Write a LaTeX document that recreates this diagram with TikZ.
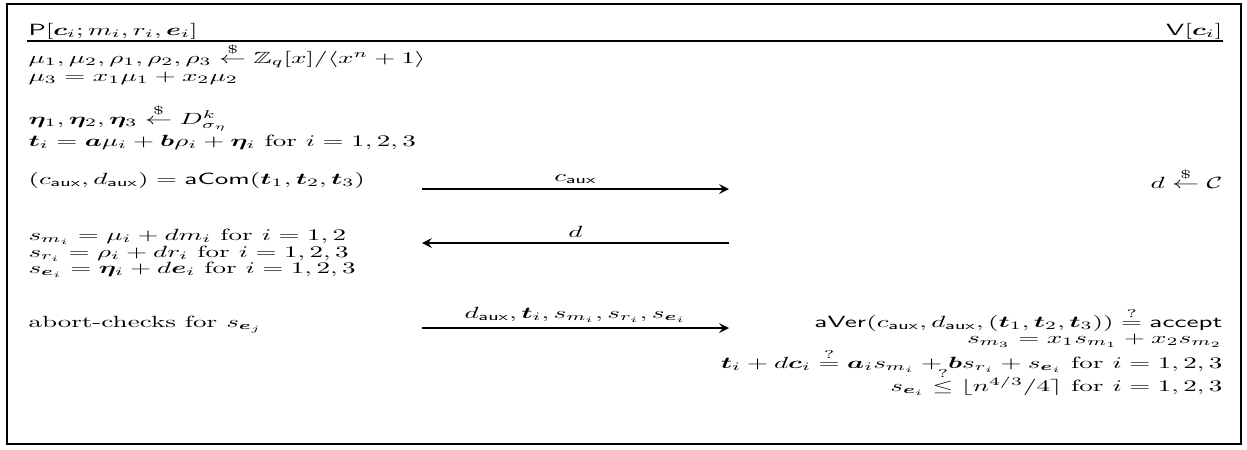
\documentclass[tikz,border=0pt]{standalone}
\usepackage{amsmath,amssymb,bm,graphicx}
\usetikzlibrary{arrows.meta}
% the reference is squeezed in height
\newcommand{\sqz}[1]{\scalebox{1}[0.6]{#1}}

\begin{document}
\begin{tikzpicture}[x=0.37pt,y=-0.37pt,
    lft/.style={anchor=base west,inner sep=0pt},
    rgt/.style={anchor=base east,inner sep=0pt},
    lbl/.style={above,inner sep=1.7pt},
    msg/.style={->,>=stealth,semithick}]
  \useasboundingbox (0,0) rectangle (1247,449);
  \draw[semithick] (7,4) rectangle (1241,444);
  % parties
  \node[lft] (prover) at (28,35) {\sqz{$\mathsf{P}[\bm{c}_i; m_i, r_i, \bm{e}_i]$}};
  \node[rgt] (verifier) at (1223,35) {\sqz{$\mathsf{V}[\bm{c}_i]$}};
  \coordinate (ruleL) at (27,41);
  \coordinate (ruleR) at (1223,41);
  \draw[semithick] (ruleL) -- (ruleR);
  % prover side
  \node[lft] (l1) at (28,63) {\sqz{$\mu_1, \mu_2, \rho_1, \rho_2, \rho_3 \stackrel{\$}{\leftarrow} \mathbb{Z}_q[x]/\langle x^n + 1\rangle$}};
  \node[lft] (l2) at (28,81) {\sqz{$\mu_3 = x_1\mu_1 + x_2\mu_2$}};
  \node[lft] (l3) at (28,124) {\sqz{$\bm{\eta}_1, \bm{\eta}_2, \bm{\eta}_3 \stackrel{\$}{\leftarrow} D^k_{\sigma_\eta}$}};
  \node[lft] (l4) at (28,146) {\sqz{$\bm{t}_i = \bm{a}\mu_i + \bm{b}\rho_i + \bm{\eta}_i$ for $i = 1, 2, 3$}};
  \node[lft] (l5) at (28,184) {\sqz{$(c_{\mathsf{aux}}, d_{\mathsf{aux}}) = \mathsf{aCom}(\bm{t}_1, \bm{t}_2, \bm{t}_3)$}};
  \node[lft] (l6) at (28,240) {\sqz{$s_{m_i} = \mu_i + dm_i$ for $i = 1, 2$}};
  \node[lft] (l7) at (28,257) {\sqz{$s_{r_i} = \rho_i + dr_i$ for $i = 1, 2, 3$}};
  \node[lft] (l8) at (28,273) {\sqz{$s_{\bm{e}_i} = \bm{\eta}_i + d\bm{e}_i$ for $i = 1, 2, 3$}};
  \node[lft] (l9) at (28,327) {\sqz{abort-checks for $s_{\bm{e}_j}$}};
  % verifier side
  \node[rgt] (r1) at (1223,188) {\sqz{$d \stackrel{\$}{\leftarrow} \mathcal{C}$}};
  \node[rgt] (r2) at (1223,327) {\sqz{$\mathsf{aVer}(c_{\mathsf{aux}}, d_{\mathsf{aux}}, (\bm{t}_1, \bm{t}_2, \bm{t}_3)) \stackrel{?}{=} \mathsf{accept}$}};
  \node[rgt] (r3) at (1223,343) {\sqz{$s_{m_3} = x_1 s_{m_1} + x_2 s_{m_2}$}};
  \node[rgt] (r4) at (1223,368) {\sqz{$\bm{t}_i + d\bm{c}_i \stackrel{?}{=} \bm{a}_i s_{m_i} + \bm{b} s_{r_i} + s_{\bm{e}_i}$ for $i = 1, 2, 3$}};
  \node[rgt] (r5) at (1223,391) {\sqz{$s_{\bm{e}_i} \stackrel{?}{\le} \lfloor n^{4/3}/4 \rceil$ for $i = 1, 2, 3$}};
  % messages
  \coordinate (m1a) at (422,189);
  \coordinate (m1b) at (729,189);
  \coordinate (m2a) at (422,243);
  \coordinate (m2b) at (729,243);
  \coordinate (m3a) at (422,328);
  \coordinate (m3b) at (729,328);
  \draw[msg] (m1a) -- node[lbl] (caux) {\sqz{$c_{\mathsf{aux}}$}} (m1b);
  \draw[msg] (m2b) -- node[lbl] (chal) {\sqz{$d$}} (m2a);
  \draw[msg] (m3a) -- node[lbl] (resp) {\sqz{$d_{\mathsf{aux}}, \bm{t}_i, s_{m_i}, s_{r_i}, s_{\bm{e}_i}$}} (m3b);
\end{tikzpicture}
\end{document}
